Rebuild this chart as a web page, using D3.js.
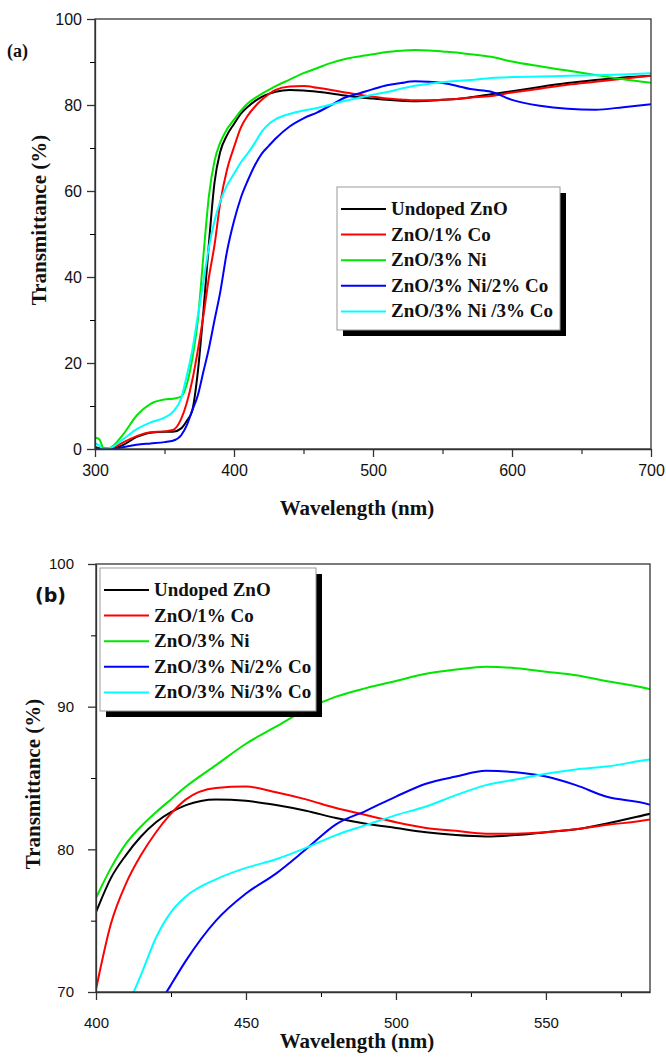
<!DOCTYPE html>
<html>
<head>
<meta charset="utf-8">
<script src="https://cdn.jsdelivr.net/npm/d3@7"></script>
<style>
body { margin: 0; background: #fff; }
.tick text { font-family: "Liberation Sans", Arial, sans-serif; fill: #111; }
.title { font-family: "Liberation Serif", "Times New Roman", serif; font-weight: bold; fill: #111; }
</style>
</head>
<body>
<svg id="chart" width="666" height="1057"></svg>
<script>
// wavelength grid (nm) shared by every series
var wavelength = [300, 303, 306, 310, 320, 330, 340, 350, 356, 362, 366, 370, 374, 378, 382, 386, 390, 395,
    400, 405, 410, 415, 420, 425, 430, 440, 450, 460, 470, 480, 490, 500, 510, 520, 530, 540, 550, 560, 570, 585,
    600, 620, 640, 660, 680, 700];

// transmittance (%)
var undopedZnO = [0.5, 0.2, 0, 0, 0.9, 2.8, 3.8, 4.0, 4.0, 4.8, 6.5, 9.0, 18, 32, 48, 62, 69, 73,
    75.6, 78.0, 79.6, 80.9, 81.9, 82.6, 83.1, 83.5, 83.4, 83.1, 82.7, 82.2, 81.8, 81.5, 81.2, 81.0, 80.9, 81.0, 81.2, 81.4, 81.8, 82.5,
    83.2, 84.2, 85.1, 85.8, 86.4, 86.8];
var co1 = [0.3, 0.1, 0, 0, 1.5, 3.0, 3.9, 4.1, 4.4, 7.0, 10.7, 16, 23, 31, 40, 47.5, 57, 65,
    70.2, 74.8, 77.6, 79.6, 81.2, 82.5, 83.5, 84.3, 84.4, 84.0, 83.5, 82.9, 82.4, 81.9, 81.5, 81.3, 81.1, 81.1, 81.2, 81.4, 81.7, 82.1,
    82.9, 83.8, 84.7, 85.4, 86.1, 86.8];
var ni3 = [2.6, 2.3, 0.3, 0.2, 3.3, 7.8, 10.5, 11.5, 11.7, 12.2, 15.0, 21, 30, 45, 59, 67, 71.2, 74.4,
    76.6, 78.7, 80.4, 81.6, 82.6, 83.5, 84.4, 85.9, 87.4, 88.6, 89.8, 90.7, 91.3, 91.8, 92.3, 92.6, 92.8, 92.7, 92.45, 92.2, 91.8, 91.2,
    90.1, 89.0, 88.0, 87.0, 86.0, 85.2];
var ni3co2 = [0.3, 0.1, 0, 0, 0.4, 1.0, 1.3, 1.6, 1.9, 3.2, 5.5, 9, 12.5, 18, 23.5, 30, 36.3, 46,
    53, 58.5, 62.5, 66, 68.7, 70.5, 72.2, 75.0, 76.9, 78.3, 80.0, 81.75, 82.7, 83.7, 84.6, 85.1, 85.5, 85.4, 85.1, 84.5, 83.7, 83.1,
    81.2, 79.8, 79.1, 78.9, 79.5, 80.2];
var ni3co3 = [1.4, 0.8, 0, 0.1, 2.2, 4.6, 6.2, 7.3, 8.6, 11.8, 17, 23, 31, 39, 47, 53, 57.5, 61.3,
    64, 66.7, 68.8, 71.2, 73.8, 75.6, 76.7, 77.9, 78.7, 79.3, 80.1, 81.0, 81.7, 82.4, 83.0, 83.8, 84.5, 84.9, 85.3, 85.6, 85.8, 86.3,
    86.5, 86.6, 86.8, 86.9, 87.1, 87.4];

var seriesValues = [undopedZnO, co1, ni3, ni3co2, ni3co3];
var colors = ["#000000", "#ff0000", "#00e600", "#0000ff", "#00ffff"];
var labelsA = ["Undoped ZnO", "ZnO/1% Co", "ZnO/3% Ni", "ZnO/3% Ni/2% Co", "ZnO/3% Ni /3% Co"];
var labelsB = ["Undoped ZnO", "ZnO/1% Co", "ZnO/3% Ni", "ZnO/3% Ni/2% Co", "ZnO/3% Ni/3% Co"];

var xMajorA = [300, 400, 500, 600, 700];
var xMinorA = [350, 450, 550, 650];
var yMajorA = [0, 20, 40, 60, 80, 100];
var yMinorA = [10, 30, 50, 70, 90];
var xMajorB = [400, 450, 500, 550];
var xMinorB = [425, 475, 525, 575];
var yMajorB = [70, 80, 90, 100];
var yMinorB = [75, 85, 95];

var svg = d3.select("#chart");

var series = seriesValues.map(function(vals) {
    return wavelength.map(function(w, i) { return {w: w, t: vals[i]}; });
});

function drawPanel(p) {
    var g = svg.append("g").attr("transform", "translate(" + p.left + "," + p.top + ")");
    var x = d3.scaleLinear().domain(p.xDomain).range([0, p.w]);
    var y = d3.scaleLinear().domain(p.yDomain).range([p.h, 0]);

    g.append("clipPath").attr("id", p.id).append("rect")
        .attr("width", p.w).attr("height", p.h);

    var line = d3.line()
        .x(function(d) { return x(d.w); })
        .y(function(d) { return y(d.t); })
        .curve(d3.curveMonotoneX);

    g.append("g").attr("clip-path", "url(#" + p.id + ")")
        .selectAll("path")
        .data(series)
        .enter().append("path")
        .attr("d", line)
        .attr("fill", "none")
        .attr("stroke", function(d, i) { return colors[i]; })
        .attr("stroke-width", 2);

    // frame
    g.append("rect")
        .attr("width", p.w).attr("height", p.h)
        .attr("fill", "none").attr("stroke", "#333").attr("stroke-width", 1.3);

    // minor ticks
    g.append("g").attr("transform", "translate(0," + p.h + ")")
        .call(d3.axisBottom(x).tickValues(p.xMinor).tickSize(5).tickFormat(""))
        .call(function(a) { a.select(".domain").remove(); });
    g.append("g")
        .call(d3.axisLeft(y).tickValues(p.yMinor).tickSize(5).tickFormat(""))
        .call(function(a) { a.select(".domain").remove(); });

    // major ticks
    var xa = g.append("g").attr("transform", "translate(0," + p.h + ")")
        .call(d3.axisBottom(x).tickValues(p.xMajor).tickSize(8).tickPadding(p.xPad).tickSizeOuter(0));
    var ya = g.append("g")
        .call(d3.axisLeft(y).tickValues(p.yMajor).tickSize(8).tickPadding(p.yPad).tickSizeOuter(0));
    [xa, ya].forEach(function(a) {
        a.select(".domain").attr("stroke", "#333").attr("stroke-width", 1.3);
        a.selectAll(".tick line").attr("stroke", "#333").attr("stroke-width", 1.3);
        a.selectAll(".tick text").attr("font-size", p.tickFont);
    });

    // axis titles
    svg.append("text").attr("class", "title")
        .attr("x", p.left + p.w / 2 - 16).attr("y", p.xTitleY)
        .attr("text-anchor", "middle").attr("font-size", 21)
        .text("Wavelength (nm)");
    svg.append("text").attr("class", "title")
        .attr("transform", "translate(" + p.yTitleX + "," + p.yTitleCY + ") rotate(-90)")
        .attr("text-anchor", "middle").attr("font-size", 21)
        .text("Transmittance (%)");

    // legend with drop shadow
    var lg = svg.append("g").attr("transform", "translate(" + p.legend.x + "," + p.legend.y + ")");
    lg.append("rect").attr("x", 6).attr("y", 6)
        .attr("width", p.legend.w).attr("height", p.legend.h).attr("fill", "#000");
    lg.append("rect")
        .attr("width", p.legend.w).attr("height", p.legend.h)
        .attr("fill", "#fff").attr("stroke", "#999").attr("stroke-width", 1);
    p.labels.forEach(function(lab, i) {
        var cy = 22 + i * 25.6;
        lg.append("line")
            .attr("x1", 4).attr("x2", 49).attr("y1", cy).attr("y2", cy)
            .attr("stroke", colors[i]).attr("stroke-width", 2);
        lg.append("text").attr("class", "title")
            .attr("x", 54).attr("y", cy + 6)
            .attr("font-size", 19)
            .text(lab);
    });
}

drawPanel({
    id: "clipA", left: 95, top: 19, w: 556, h: 430,
    xDomain: [300, 700], yDomain: [0, 100],
    xMajor: xMajorA, xMinor: xMinorA, yMajor: yMajorA, yMinor: yMinorA,
    xPad: 8, yPad: 5, tickFont: 16,
    xTitleY: 515, yTitleX: 46, yTitleCY: 220,
    labels: labelsA,
    legend: {x: 337, y: 187, w: 223, h: 143}
});

drawPanel({
    id: "clipB", left: 96, top: 564, w: 554, h: 428,
    xDomain: [400, 584.7], yDomain: [70, 100],
    xMajor: xMajorB, xMinor: xMinorB, yMajor: yMajorB, yMinor: yMinorB,
    xPad: 17, yPad: 14, tickFont: 15,
    xTitleY: 1048, yTitleX: 40, yTitleCY: 784,
    labels: labelsB,
    legend: {x: 100, y: 568, w: 216, h: 143}
});

// panel tags
svg.append("text").attr("class", "title")
    .attr("x", 7).attr("y", 57).attr("font-size", 18)
    .text("(a)");
svg.append("text")
    .attr("x", 35).attr("y", 602)
    .attr("font-family", "DejaVu Sans, sans-serif").attr("font-weight", "bold")
    .attr("font-size", 19).attr("fill", "#111")
    .text("(b)");
</script>
</body>
</html>
